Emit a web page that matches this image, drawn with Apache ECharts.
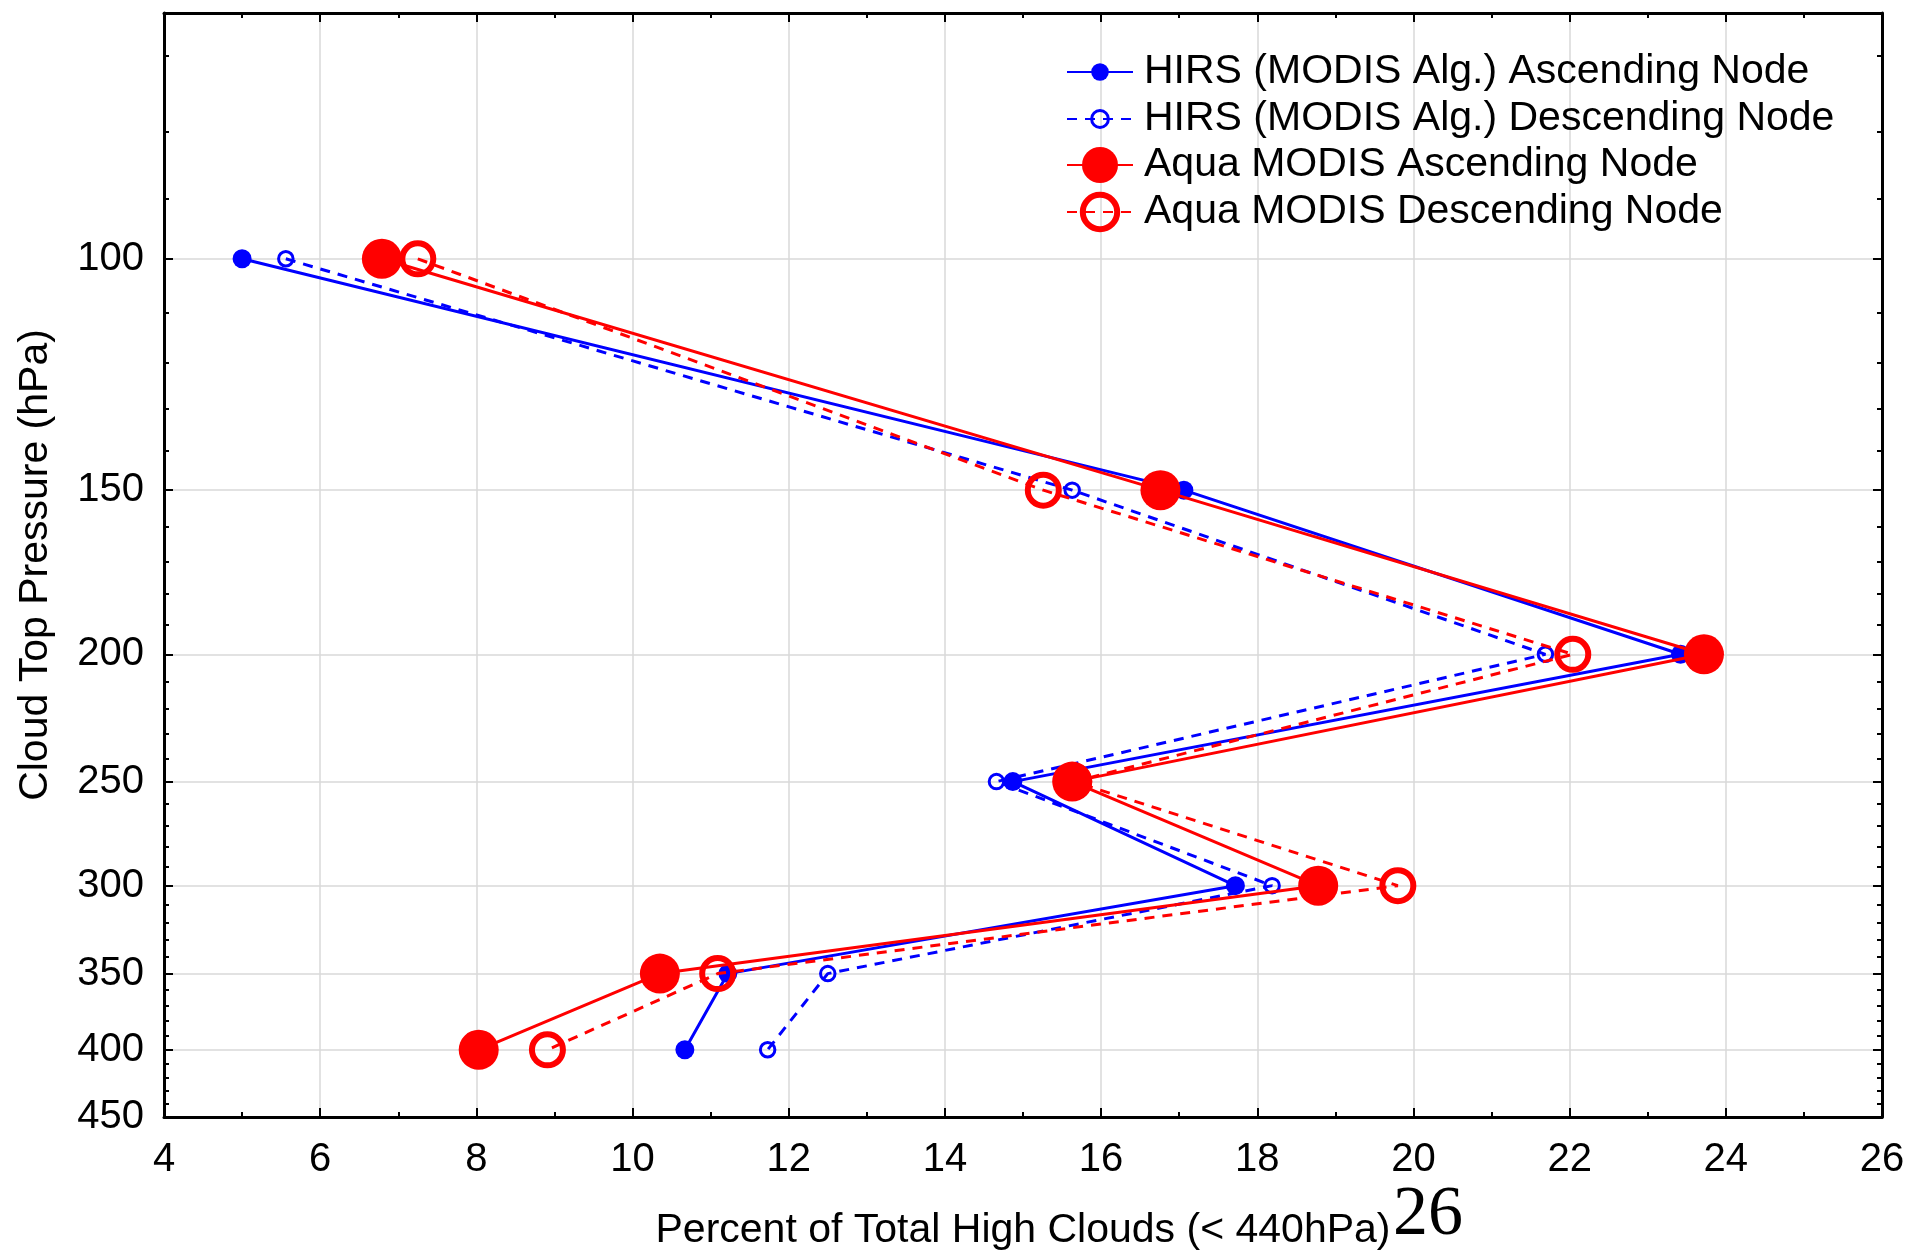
<!DOCTYPE html>
<html>
<head>
<meta charset="utf-8">
<script src="https://cdn.jsdelivr.net/npm/echarts@6/dist/echarts.min.js"></script>
<style>
html,body{margin:0;padding:0;background:#fff;}
#chart{width:1909px;height:1251px;}
</style>
</head>
<body>
<div id="chart"></div>
<script>
// ---- data ----
const pressure = [100, 150, 200, 250, 300, 350, 400];
const hirsAsc  = [5.00, 17.06, 23.42, 14.87, 17.72, 11.22, 10.67];
const hirsDesc = [5.56, 15.63, 21.69, 14.66, 18.19, 12.50, 11.73];
const aquaAsc  = [6.79, 16.76, 23.72, 15.63, 18.78, 10.35, 8.03];
const aquaDesc = [7.25, 15.26, 22.04, 15.65, 19.80, 11.09, 8.91];
const seriesNames = [
  'HIRS (MODIS Alg.) Ascending Node',
  'HIRS (MODIS Alg.) Descending Node',
  'Aqua MODIS Ascending Node',
  'Aqua MODIS Descending Node'
];
const yTickLabels = [100, 150, 200, 250, 300, 350, 400, 450];
const yGridValues = [100, 150, 200, 250, 300, 350, 400];
const yMinorTicks = [70, 80, 90, 110, 120, 130, 140, 160, 170, 180, 190, 210, 220, 230, 240,
  260, 270, 280, 290, 310, 320, 330, 340, 360, 370, 380, 390, 410, 420, 430, 440];
const xTitle = 'Percent of Total High Clouds (< 440hPa)';
const yTitle = 'Cloud Top Pressure (hPa)';
const strayText = '26';

const pair = (xs) => xs.map((v, i) => [v, pressure[i]]);

const FONT = 'Liberation Sans';
const BLUE = '#0000ff';
const RED = '#ff0000';
const CLEAR = 'rgba(255,255,255,0)';

const chart = echarts.init(document.getElementById('chart'), null, {renderer: 'canvas'});

const yBase = {
  type: 'log', logBase: 10, min: 65, max: 450, inverse: true,
  gridIndex: 0
};

function legendFor(idx, top, itemH, borderW) {
  const lg = {
    data: [seriesNames[idx]],
    left: 1066, top: top, orient: 'vertical', padding: 0,
    itemWidth: 66, itemHeight: itemH,
    textStyle: {fontFamily: FONT, fontSize: 41, color: '#000', lineHeight: 46, padding: [0, 0, 0, 6]},
    selectedMode: false
  };
  if (borderW) lg.itemStyle = {borderWidth: borderW};
  return lg;
}

const option = {
  backgroundColor: '#fff',
  animation: false,
  grid: {left: 164, right: 27, top: 13, bottom: 134, containLabel: false, outerBoundsMode: 'none'},
  legend: [
    legendFor(0, 49, 22),
    legendFor(1, 96, 21, 3),
    legendFor(2, 142, 45),
    legendFor(3, 189, 43, 6)
  ],
  xAxis: [
    {
      type: 'value', min: 4, max: 26, interval: 2, position: 'bottom',
      name: xTitle, nameLocation: 'middle', nameGap: 93,
      nameTextStyle: {fontFamily: FONT, fontSize: 41, color: '#000'},
      axisLine: {show: true, onZero: false, lineStyle: {color: '#000', width: 3}},
      axisTick: {show: true, inside: true, length: 9, lineStyle: {color: '#000', width: 2}},
      minorTick: {show: true, splitNumber: 2, length: 5, lineStyle: {color: '#000', width: 2}},
      axisLabel: {fontFamily: FONT, fontSize: 40, color: '#000', margin: 23},
      splitLine: {show: true, lineStyle: {color: '#d9d9d9', width: 1.5}}
    },
    {
      type: 'value', min: 4, max: 26, interval: 2, position: 'top',
      axisLine: {show: true, onZero: false, lineStyle: {color: '#000', width: 3}},
      axisTick: {show: true, inside: true, length: 9, lineStyle: {color: '#000', width: 2}},
      minorTick: {show: true, splitNumber: 2, length: 5, lineStyle: {color: '#000', width: 2}},
      axisLabel: {show: false},
      splitLine: {show: false}
    }
  ],
  yAxis: [
    Object.assign({}, yBase, {
      position: 'left',
      name: yTitle, nameLocation: 'middle', nameGap: 108, nameRotate: 90,
      nameTextStyle: {fontFamily: FONT, fontSize: 41, color: '#000'},
      axisLine: {show: true, onZero: false, lineStyle: {color: '#000', width: 3}},
      axisTick: {show: true, inside: true, length: 9, customValues: yTickLabels, lineStyle: {color: '#000', width: 2}},
      axisLabel: {show: true, customValues: yTickLabels, fontFamily: FONT, fontSize: 40, color: '#000', margin: 20,
        formatter: (v) => String(Math.round(v))},
      splitLine: {show: false},
      minorTick: {show: false}, minorSplitLine: {show: false}
    }),
    Object.assign({}, yBase, {
      position: 'left',
      axisLine: {show: false},
      axisTick: {show: true, inside: true, length: 5, customValues: yMinorTicks, lineStyle: {color: '#000', width: 2}},
      axisLabel: {show: false},
      splitLine: {show: false}
    }),
    Object.assign({}, yBase, {
      position: 'right',
      axisLine: {show: true, onZero: false, lineStyle: {color: '#000', width: 3}},
      axisTick: {show: true, inside: true, length: 9, customValues: yTickLabels, lineStyle: {color: '#000', width: 2}},
      axisLabel: {show: false},
      splitLine: {show: false}
    }),
    Object.assign({}, yBase, {
      position: 'right',
      axisLine: {show: false},
      axisTick: {show: true, inside: true, length: 5, customValues: yMinorTicks, lineStyle: {color: '#000', width: 2}},
      axisLabel: {show: false},
      splitLine: {show: false}
    }),
    Object.assign({}, yBase, {
      position: 'left',
      axisLine: {show: false},
      axisTick: {show: false, customValues: yGridValues},
      axisLabel: {show: false, customValues: yGridValues},
      splitLine: {show: true, lineStyle: {color: '#d9d9d9', width: 1.5}}
    })
  ],
  graphic: [
    {
      type: 'text', left: 1393, top: 1181, silent: true,
      style: {text: strayText, font: '70px "Liberation Serif"', fill: '#000'}
    }
  ],
  series: [
    {
      name: seriesNames[0], type: 'line', xAxisIndex: 0, yAxisIndex: 0,
      data: pair(hirsAsc), symbol: 'circle', symbolSize: 19,
      lineStyle: {color: BLUE, width: 3, type: 'solid'},
      itemStyle: {color: BLUE}, z: 2
    },
    {
      name: seriesNames[1], type: 'line', xAxisIndex: 0, yAxisIndex: 0,
      data: pair(hirsDesc), symbol: 'circle', symbolSize: 14.5,
      lineStyle: {color: BLUE, width: 3, type: [10, 8]},
      itemStyle: {color: CLEAR, borderColor: BLUE, borderWidth: 3}, z: 3
    },
    {
      name: seriesNames[2], type: 'line', xAxisIndex: 0, yAxisIndex: 0,
      data: pair(aquaAsc), symbol: 'circle', symbolSize: 40,
      lineStyle: {color: RED, width: 3, type: 'solid'},
      itemStyle: {color: RED}, z: 4
    },
    {
      name: seriesNames[3], type: 'line', xAxisIndex: 0, yAxisIndex: 0,
      data: pair(aquaDesc), symbol: 'circle', symbolSize: 31,
      lineStyle: {color: RED, width: 3, type: [10, 8]},
      itemStyle: {color: CLEAR, borderColor: RED, borderWidth: 6}, z: 5
    }
  ]
};
chart.setOption(option);
</script>
</body>
</html>
